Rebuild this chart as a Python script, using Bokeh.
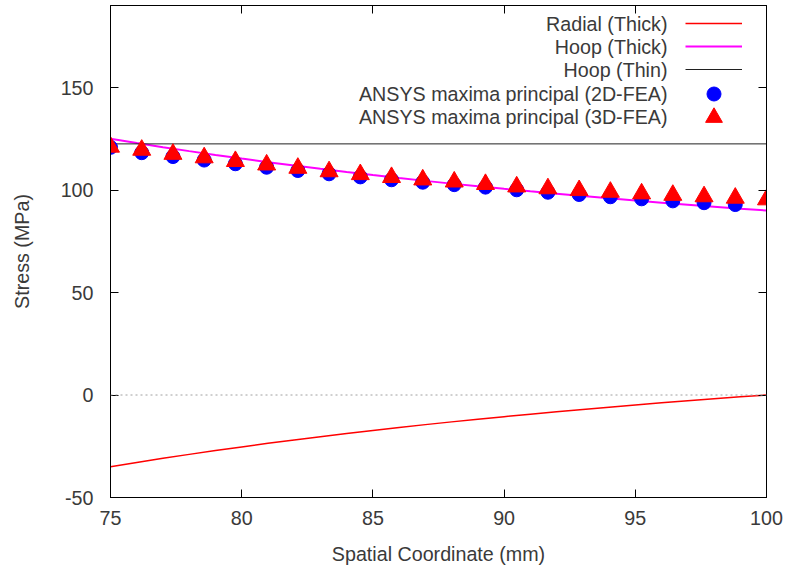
from bokeh.plotting import figure
from bokeh.models import Range1d, LinearAxis, FixedTicker, Span, Legend, LegendItem, Label
from bokeh.core.properties import value
from bokeh.embed import file_html
from bokeh.resources import INLINE

# ---- data ----
x_curve = [75, 76, 77, 78, 79, 80, 81, 82, 83, 84, 85, 86, 87, 88, 89, 90,
           91, 92, 93, 94, 95, 96, 97, 98, 99, 100]
radial_thick = [-35.00, -32.91, -30.90, -28.96, -27.10, -25.31, -23.59, -21.93,
                -20.32, -18.78, -17.28, -15.84, -14.45, -13.11, -11.81, -10.56,
                -9.34, -8.17, -7.03, -5.93, -4.86, -3.83, -2.83, -1.86, -0.91, 0.00]
hoop_thick = [125.00, 122.91, 120.90, 118.96, 117.10, 115.31, 113.59, 111.93,
              110.32, 108.78, 107.28, 105.84, 104.45, 103.11, 101.81, 100.56,
              99.34, 98.17, 97.03, 95.93, 94.86, 93.83, 92.83, 91.86, 90.91, 90.00]
x_thin = [75, 100]
hoop_thin = [122.5, 122.5]

x_fea_2d = [75.00, 76.19, 77.38, 78.57, 79.76, 80.95, 82.14, 83.33, 84.52, 85.71,
            86.90, 88.10, 89.29, 90.48, 91.67, 92.86, 94.05, 95.24, 96.43, 97.62, 98.81]
fea_2d = [120.8, 118.2, 116.3, 114.6, 112.8, 111.1, 109.5, 107.9, 106.4, 105.0,
          103.8, 102.6, 101.4, 100.1, 98.9, 97.8, 96.7, 95.7, 94.7, 93.8, 92.9]
x_fea_3d = [75.00, 76.19, 77.38, 78.57, 79.76, 80.95, 82.14, 83.33, 84.52, 85.71,
            86.90, 88.10, 89.29, 90.48, 91.67, 92.86, 94.05, 95.24, 96.43, 97.62,
            98.81, 100.00]
fea_3d = [121.0, 119.5, 117.5, 115.8, 114.0, 112.3, 110.7, 109.0, 107.6, 106.2,
          105.0, 104.0, 102.8, 101.6, 100.7, 99.8, 99.0, 98.2, 97.5, 96.8, 96.1, 95.3]

x_ticks = [75, 80, 85, 90, 95, 100]
y_ticks = [-50, 0, 50, 100, 150]
y_tick_text = {-50: "-50"}
zero_level = 0
series_labels = ["Radial (Thick)", "Hoop (Thick)", "Hoop (Thin)",
                 "ANSYS maxima principal (2D-FEA)", "ANSYS maxima principal (3D-FEA)"]

FONT = "Liberation Sans"
FS = "19.7px"
TXT = "#3a3a3a"

p = figure(width=787, height=571, output_backend="svg", toolbar_location=None,
           x_range=Range1d(75, 100), y_range=Range1d(-50, 190),
           min_border_left=110, min_border_right=21, min_border_top=5, min_border_bottom=74,
           x_axis_label="Spatial Coordinate (mm)", y_axis_label="Stress (MPa)")
p.grid.visible = False
p.outline_line_color = "black"
p.outline_line_width = 1
p.background_fill_color = "white"
p.border_fill_color = "white"


def style_axis(ax, ticks, labels=True):
    ax.ticker = FixedTicker(ticks=ticks)
    ax.major_tick_in = 8
    ax.major_tick_out = 0
    ax.minor_tick_in = 0
    ax.minor_tick_out = 0
    ax.axis_line_color = "black"
    ax.major_tick_line_color = "black"
    if labels:
        ax.major_label_text_font = FONT
        ax.major_label_text_font_size = FS
        ax.major_label_text_color = TXT
        ax.axis_label_text_font = FONT
        ax.axis_label_text_font_size = FS
        ax.axis_label_text_font_style = "normal"
        ax.axis_label_text_color = TXT
    else:
        ax.major_label_text_font_size = "1px"
        ax.major_label_text_color = None
        ax.major_label_standoff = 0
        ax.axis_label = None


xb = p.xaxis[0]
yl = p.yaxis[0]
style_axis(xb, x_ticks)
style_axis(yl, y_ticks)
yl.major_label_overrides = y_tick_text
xb.major_label_standoff = 13
xb.axis_label_standoff = 15
yl.major_label_standoff = 17
yl.axis_label_standoff = 25

xt = LinearAxis()
style_axis(xt, x_ticks, labels=False)
p.add_layout(xt, "above")
yr = LinearAxis()
style_axis(yr, y_ticks, labels=False)
p.add_layout(yr, "right")

p.add_layout(Span(location=zero_level, dimension="width", line_color="#a0a0a0",
                  line_dash="2 3", line_width=1))

r_rad = p.line(x_curve, radial_thick, line_color="#ff0000", line_width=1.5)
r_hoop = p.line(x_curve, hoop_thick, line_color="#ff00ff", line_width=2)
r_thin = p.line(x_thin, hoop_thin, line_color="#202020", line_width=1)
r_2d = p.scatter(x_fea_2d, fea_2d, marker="circle", size=14,
                 fill_color="#0000ff", line_color="#0000ff")
r_3d = p.scatter(x_fea_3d, fea_3d, marker="triangle", size=18,
                 fill_color="#ff0000", line_color="#ff0000")

blank = value(" ")


def make_legend(items, gh, loc):
    lg = Legend(items=items, location=loc, glyph_width=57, glyph_height=gh,
                label_height=gh, label_width=0, label_standoff=0, spacing=3,
                padding=0, margin=0, border_line_color=None,
                background_fill_alpha=0, label_text_font_size="1px",
                label_text_color=None)
    p.add_layout(lg, "center")


make_legend([LegendItem(label=blank, renderers=[r_rad]),
             LegendItem(label=blank, renderers=[r_hoop]),
             LegendItem(label=blank, renderers=[r_thin])], 20, (575, 418.5))
make_legend([LegendItem(label=blank, renderers=[r_2d])], 35, (575, 386))
make_legend([LegendItem(label=blank, renderers=[r_3d])], 42, (575, 359))

row_y = [474, 451, 428, 404, 381]
for lab, yy in zip(series_labels, row_y):
    p.add_layout(Label(x=557, y=yy, x_units="screen", y_units="screen", text=lab,
                       text_align="right", text_baseline="middle",
                       text_font=FONT, text_font_size=FS, text_color=TXT))

open("out.html", "w").write(file_html(p, INLINE))
